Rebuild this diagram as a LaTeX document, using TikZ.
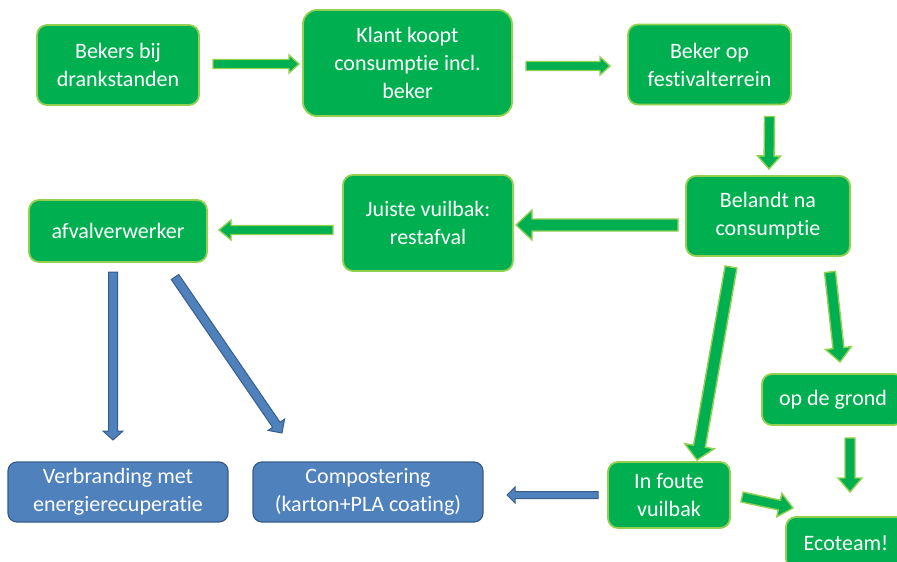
\documentclass[tikz,border=0pt]{standalone}
\usepackage{fontspec}
\setmainfont{Carlito}[Ligatures=NoCommon]
\usetikzlibrary{calc}
\definecolor{ecoGreen}{HTML}{00B050}
\definecolor{ecoLight}{HTML}{92D050}
\definecolor{ecoBlue}{HTML}{4F81BD}
\definecolor{ecoBlueDark}{HTML}{385D8A}
% block arrow: style, from, to, half shaft, half head, head length
\newcommand{\blockarrow}[6]{%
  \coordinate (ba-s) at #2;
  \coordinate (ba-t) at #3;
  \coordinate (ba-n) at ($(ba-t)!#6!(ba-s)$);
  \draw[#1] ($(ba-s)!#4!90:(ba-t)$) -- ($(ba-n)!#4!90:(ba-t)$) -- ($(ba-n)!#5!90:(ba-t)$)
    -- (ba-t) -- ($(ba-n)!#5!-90:(ba-t)$) -- ($(ba-n)!#4!-90:(ba-t)$) -- ($(ba-s)!#4!-90:(ba-t)$) -- cycle;
}

\begin{document}
\begin{tikzpicture}[
  x=1pt,y=-1pt,
  font=\fontsize{22}{28}\selectfont,
  every node/.style={text=white,align=center,inner sep=0pt,outer sep=0pt},
  gbox/.style={rounded corners=10pt,line width=1.8pt,draw=ecoLight,fill=ecoGreen},
  bbox/.style={rounded corners=9pt,line width=1.2pt,draw=ecoBlueDark,fill=ecoBlue},
  garrow/.style={line width=1.4pt,draw=ecoLight,fill=ecoGreen,line join=miter},
  barrow/.style={line width=1pt,draw=ecoBlueDark,fill=ecoBlue,line join=miter}
]
\path[use as bounding box] (0,0) rectangle (897,562);
% top row
\node[gbox,minimum width=162pt,minimum height=80pt] (bekers) at (118,65) {Bekers bij\\drankstanden};
\node[gbox,rounded corners=14pt,minimum width=209pt,minimum height=106pt] (klant) at (407.5,63) {Klant koopt\\consumptie incl.\\beker};
\node[gbox,minimum width=163pt,minimum height=80pt] (terrein) at (709.5,64.5) {Beker op\\festivalterrein};
% middle row
\node[gbox,minimum width=164pt,minimum height=80pt] (belandt) at (768,216) {Belandt na\\consumptie};
\node[gbox,minimum width=170pt,minimum height=96pt] (juiste) at (428,223) {Juiste vuilbak:\\restafval};
\node[gbox,minimum width=178pt,minimum height=62pt] (verwerker) at (118,231) {afvalverwerker};
\node[gbox,minimum width=142pt,minimum height=51pt] (grond) at (833,399.5) {op de grond};
% bottom row
\node[gbox,minimum width=122pt,minimum height=66pt] (foute) at (669,495) {In foute\\vuilbak};
\node[gbox,minimum width=120pt,minimum height=52pt] (ecoteam) at (846,543) {Ecoteam!};
\node[bbox,minimum width=220pt,minimum height=60pt] (verbranding) at (118,492) {Verbranding met\\energierecuperatie};
\node[bbox,minimum width=230pt,minimum height=60pt] (compost) at (368,492) {Compostering\\(karton+PLA coating)};
% green arrows
\blockarrow{garrow}{($(bekers.east)+(14,-1)$)}{($(klant.west)+(-4,1)$)}{4.5pt}{9pt}{10pt}
\blockarrow{garrow}{($(klant.east)+(14,3)$)}{($(terrein.west)+(-18,1.5)$)}{4.5pt}{9pt}{10pt}
\blockarrow{garrow}{($(terrein.south)+(60,12)$)}{($(belandt.north)+(1,-7)$)}{5pt}{11.5pt}{13pt}
\blockarrow{garrow}{($(belandt.west)+(-8,9)$)}{($(juiste.east)+(3,2)$)}{6pt}{15pt}{16pt}
\blockarrow{garrow}{($(juiste.west)+(-10,7)$)}{($(verwerker.east)+(12,-1)$)}{4.5pt}{10pt}{12pt}
\blockarrow{garrow}{($(belandt.south)+(-37,11)$)}{($(foute.north)+(28,-2)$)}{6pt}{15pt}{14pt}
\blockarrow{garrow}{($(belandt.south)+(62,16)$)}{($(grond.north)+(7,-12)$)}{5.5pt}{13pt}{14pt}
\blockarrow{garrow}{($(grond.south)+(17,13)$)}{($(ecoteam.north)+(4,-25)$)}{5pt}{12pt}{14pt}
\blockarrow{garrow}{($(foute.east)+(12,2)$)}{($(ecoteam.north west)+(7,-9)$)}{5pt}{12pt}{14pt}
% blue arrows
\blockarrow{barrow}{($(verwerker.south)+(-5,10)$)}{($(verbranding.north)+(-5,-22)$)}{4.5pt}{10pt}{9pt}
\blockarrow{barrow}{($(verwerker.south)+(57,15)$)}{($(compost.north west)+(29,-29)$)}{4.5pt}{10pt}{10pt}
\blockarrow{barrow}{($(foute.west)+(-10,0)$)}{($(compost.east)+(24,3)$)}{3.5pt}{8pt}{8pt}
\end{tikzpicture}
\end{document}
